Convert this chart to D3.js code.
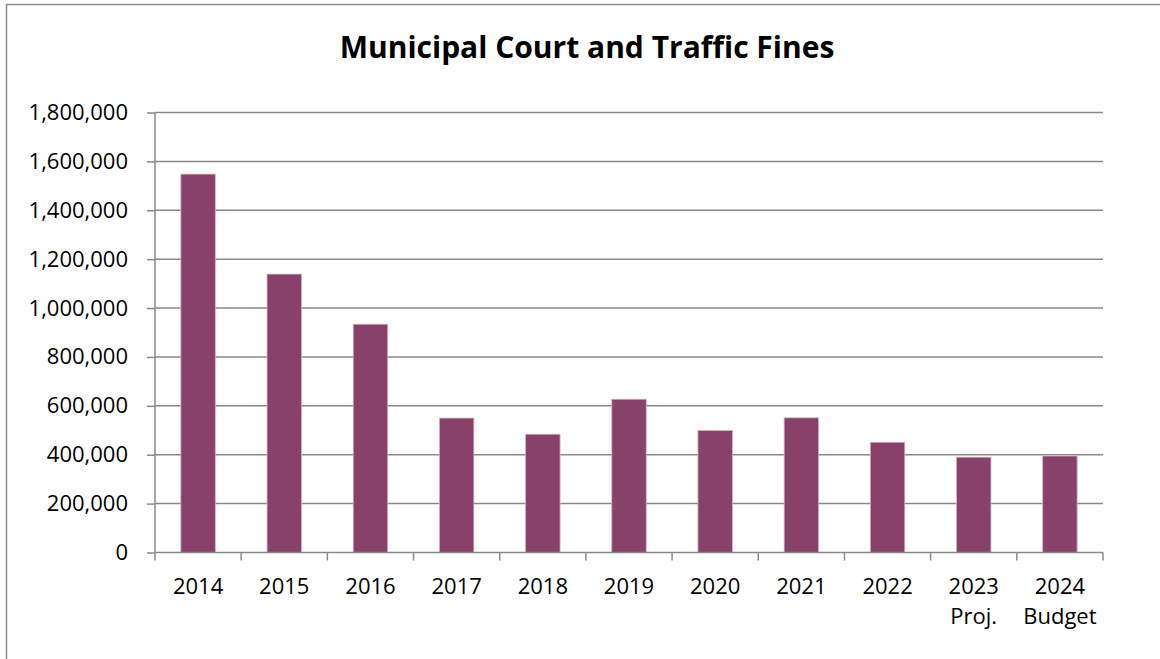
<!DOCTYPE html>
<html>
<head>
<meta charset="utf-8">
<script src="https://cdn.jsdelivr.net/npm/d3@7/dist/d3.min.js"></script>
<style>
  html, body { margin: 0; padding: 0; background: #fff; }
  svg { display: block; }
  text { font-family: "Open Sans", Carlito, Calibri, sans-serif; fill: #000; }
</style>
</head>
<body>
<svg id="chart" width="1160" height="659"></svg>
<script>
// Revenue by fiscal year
const categories = ["2014", "2015", "2016", "2017", "2018", "2019", "2020", "2021", "2022", "2023\nProj.", "2024\nBudget"];
const fines = [1548000, 1139000, 934000, 550000, 484000, 627000, 499000, 551000, 451000, 390000, 395000];
const yTicks = [0, 200000, 400000, 600000, 800000, 1000000, 1200000, 1400000, 1600000, 1800000];
const title = "Municipal Court and Traffic Fines";

const svg = d3.select("#chart");
const W = 1160, H = 659;
const margin = { left: 155, right: 57, top: 112.5, bottom: 106.5 };
const innerW = W - margin.left - margin.right;
const innerH = H - margin.top - margin.bottom;

// outer frame
svg.append("rect")
  .attr("x", 6.5).attr("y", 4.5)
  .attr("width", W + 10).attr("height", H + 10)
  .attr("fill", "none").attr("stroke", "#8c8c8c").attr("stroke-width", 1.5);

svg.append("text")
  .attr("x", 587).attr("y", 58)
  .attr("text-anchor", "middle")
  .attr("font-size", 30).attr("font-weight", "bold")
  .text(title);

const g = svg.append("g").attr("transform", `translate(${margin.left},${margin.top})`);

const x = d3.scaleBand().domain(categories).range([0, innerW]).paddingInner(0.6).paddingOuter(0.3);
const y = d3.scaleLinear().domain([0, 1800000]).range([innerH, 0]);

// horizontal gridlines
g.append("g")
  .selectAll("line")
  .data(yTicks.filter(d => d > 0))
  .join("line")
  .attr("x1", 0).attr("x2", innerW)
  .attr("y1", d => y(d)).attr("y2", d => y(d))
  .attr("stroke", "#8a8a8a").attr("stroke-width", 1.5);

// bars
g.append("g")
  .selectAll("rect")
  .data(fines)
  .join("rect")
  .attr("x", (d, i) => x(categories[i]))
  .attr("y", d => y(d))
  .attr("width", x.bandwidth())
  .attr("height", d => innerH - y(d))
  .attr("fill", "#88426a")
  .attr("stroke", "#d3b3c5").attr("stroke-width", 0.8);

// y axis
const yAxis = g.append("g")
  .call(d3.axisLeft(y).tickValues(yTicks).tickFormat(d3.format(",")).tickSize(8).tickPadding(19));
yAxis.select(".domain").attr("stroke", "#8a8a8a").attr("stroke-width", 1.5).attr("d", `M0,${innerH}V0`);
yAxis.selectAll(".tick line").attr("stroke", "#8a8a8a").attr("stroke-width", 1.5);
yAxis.selectAll(".tick text").attr("font-size", 22).attr("fill", "#000")
  .style("font-family", "'Open Sans', Carlito, Calibri, sans-serif");

// x axis with category boundary ticks
const xg = g.append("g").attr("transform", `translate(0,${innerH})`);
xg.append("line").attr("x1", 0).attr("x2", innerW).attr("y1", 0).attr("y2", 0)
  .attr("stroke", "#8a8a8a").attr("stroke-width", 1.5);
const bounds = d3.range(categories.length + 1).map(i => i * x.step() + x.paddingOuter() * x.step() - x.paddingInner() * x.step() / 2);
xg.selectAll("line.tk").data(bounds).join("line").attr("class", "tk")
  .attr("x1", d => d).attr("x2", d => d).attr("y1", 0).attr("y2", 8)
  .attr("stroke", "#8a8a8a").attr("stroke-width", 1.5);

const labels = xg.selectAll("text.cat").data(categories).join("text").attr("class", "cat")
  .attr("text-anchor", "middle")
  .attr("font-size", 22)
  .attr("transform", d => `translate(${x(d) + x.bandwidth() / 2},41)`);
labels.selectAll("tspan").data(d => d.split("\n")).join("tspan")
  .attr("x", 0).attr("dy", (d, i) => i === 0 ? 0 : 30)
  .text(d => d);
</script>
</body>
</html>
